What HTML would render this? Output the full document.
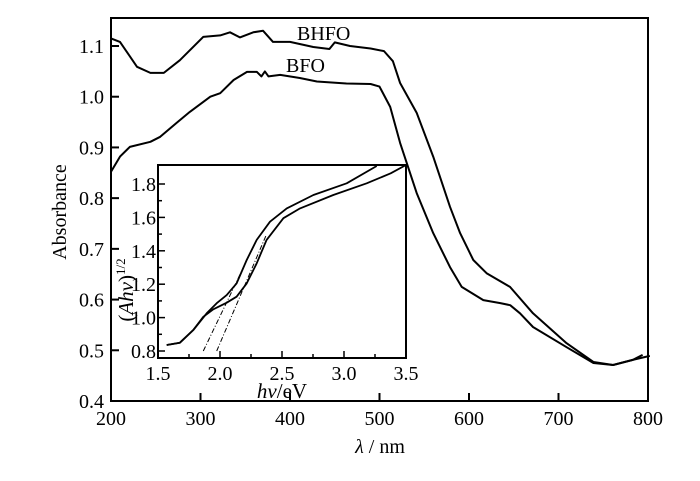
<!DOCTYPE html>
<html><head><meta charset="utf-8"><style>
html,body{margin:0;padding:0;background:#fff;}
svg{display:block;font-family:"Liberation Serif",serif;}
</style></head><body>
<svg id="chart" width="700" height="481" viewBox="0 0 700 481">
<g id="main"></g>
<g id="inset"></g>
</svg>
<script>
const bhfoNm=[200,210,229,244,259,277,303,322,333,344,359,370,381,400,426,444,450,467,490,505,515,523,541.6,560,578.8,590,604.8,619.7,645.8,671.5,709,739,761,783,802];
const bhfoAbs=[1.115,1.108,1.059,1.047,1.047,1.072,1.118,1.121,1.127,1.117,1.127,1.13,1.108,1.108,1.098,1.094,1.107,1.10,1.095,1.09,1.07,1.027,0.968,0.882,0.783,0.731,0.678,0.652,0.625,0.573,0.514,0.477,0.471,0.481,0.489];
const bfoNm=[200,210,221,244,255,273,288,311,322,337,352,363,368,372,376,389,411,430,463,490,500,512,523,541.6,560,578.8,591.8,616,635,646,657,671.5,709,739,761,783,794];
const bfoAbs=[0.852,0.882,0.901,0.911,0.921,0.948,0.970,1.0,1.007,1.033,1.049,1.049,1.04,1.05,1.04,1.043,1.037,1.03,1.026,1.025,1.02,0.98,0.909,0.810,0.731,0.664,0.625,0.599,0.593,0.589,0.573,0.546,0.506,0.475,0.471,0.481,0.491];
const xTicks=[200,300,400,500,600,700,800];
const yTicks=[0.4,0.5,0.6,0.7,0.8,0.9,1.0,1.1];
const insetAeV=[1.570,1.677,1.785,1.893,1.973,2.054,2.134,2.215,2.296,2.403,2.538,2.753,3.022,3.264];
const insetAVal=[0.836,0.850,0.926,1.026,1.086,1.135,1.205,1.345,1.465,1.574,1.654,1.734,1.804,1.908];
const insetBeV=[1.570,1.677,1.785,1.865,1.946,2.054,2.134,2.215,2.296,2.376,2.511,2.645,2.914,3.183,3.377,3.5];
const insetBVal=[0.836,0.850,0.926,1.005,1.050,1.089,1.125,1.205,1.325,1.465,1.595,1.654,1.734,1.804,1.864,1.914];
const fitAeV=[1.865,2.269];
const fitAVal=[0.80,1.425];
const fitBeV=[1.973,2.37];
const fitBVal=[0.80,1.49];
const insetXTicks=[1.5,2.0,2.5,3.0,3.5];
const insetYTicks=[0.8,1.0,1.2,1.4,1.6,1.8];

const NS="http://www.w3.org/2000/svg";
function mk(parent,tag,attrs,text){const e=document.createElementNS(NS,tag);for(const k in attrs)e.setAttribute(k,attrs[k]);if(text!==undefined)e.textContent=text;parent.appendChild(e);return e;}
const mX=v=>111+(v-200)*(537/600);
const mY=v=>401-(v-0.4)*(355/0.7);
const main=document.getElementById('main');
let fr=mk(main,'rect',{x:111,y:18,width:537,height:383,fill:'none',stroke:'#000','stroke-width':2});


xTicks.forEach(t=>{
  let l=mk(main,'line',{x1:mX(t),x2:mX(t),y1:401,y2:393,stroke:'#000','stroke-width':2});
  
  
  let tx=mk(main,'text',{x:mX(t),y:425,'font-size':20,'text-anchor':'middle'},String(t));
  
  
});
yTicks.forEach(t=>{
  let l=mk(main,'line',{x1:111,x2:119,y1:mY(t),y2:mY(t),stroke:'#000','stroke-width':2});
  
  
  let tx=mk(main,'text',{x:104,y:mY(t)+7,'font-size':20,'text-anchor':'end'},t.toFixed(1));
  
  
});
function path(parent,xs,ys,fx,fy,name,extra){
  const d=xs.map((x,i)=>(i?'L':'M')+fx(x).toFixed(1)+','+fy(ys[i]).toFixed(1)).join('');
  const p=mk(parent,'path',Object.assign({d:d,fill:'none',stroke:'#000','stroke-width':2,'stroke-linejoin':'round'},extra||{}));
  
  
  return p;
}
path(main,bhfoNm,bhfoAbs,mX,mY,'bhfo-line');
path(main,bfoNm,bfoAbs,mX,mY,'bfo-line');
let lb=mk(main,'text',{x:297,y:40,'font-size':20},'BHFO');


lb=mk(main,'text',{x:286,y:72,'font-size':20},'BFO');


lb=mk(main,'text',{x:0,y:0,'font-size':20,'text-anchor':'middle',transform:'translate(66,212) rotate(-90)'},'Absorbance');


lb=mk(main,'text',{x:380,y:453,'font-size':20,'text-anchor':'middle'});
lb.innerHTML='<tspan font-style="italic">λ</tspan> / nm';



const iX=v=>158+(v-1.5)*124;
const iY=v=>351-(v-0.8)*167;
const inset=document.getElementById('inset');
let bg=mk(inset,'rect',{x:158,y:165,width:248,height:193,fill:'#fff',stroke:'#000','stroke-width':2});


for(let v=1.5;v<=3.5001;v+=0.25){
  const major=Math.abs(v*2-Math.round(v*2))<1e-6;
  let l=mk(inset,'line',{x1:iX(v),x2:iX(v),y1:358,y2:major?351:354,stroke:'#000','stroke-width':1.5});
  
  
}
for(let v=0.8;v<=1.9;v+=0.1){
  const major=Math.round(v*10)%2===0;
  let l=mk(inset,'line',{x1:158,x2:major?165:162,y1:iY(v),y2:iY(v),stroke:'#000','stroke-width':1.5});
  
  
}
insetXTicks.forEach(t=>{
  let tx=mk(inset,'text',{x:iX(t),y:380,'font-size':20,'text-anchor':'middle'},t.toFixed(1));
  
  
});
insetYTicks.forEach(t=>{
  let tx=mk(inset,'text',{x:156,y:iY(t)+7,'font-size':20,'text-anchor':'end'},t.toFixed(1));
  
  
});
path(inset,insetAeV,insetAVal,iX,iY,'inset-bhfo-line',{'stroke-width':1.8});
path(inset,insetBeV,insetBVal,iX,iY,'inset-bfo-line',{'stroke-width':1.8});
path(inset,fitAeV,fitAVal,iX,iY,'inset-fit-line-1',{'stroke-width':1,'stroke-dasharray':'5,2,1,2'});
path(inset,fitBeV,fitBVal,iX,iY,'inset-fit-line-2',{'stroke-width':1,'stroke-dasharray':'5,2,1,2'});
lb=mk(inset,'text',{x:0,y:0,'font-size':21,'text-anchor':'middle',transform:'translate(133,290) rotate(-90)'});
lb.innerHTML='(<tspan font-style="italic">Ahν</tspan>)<tspan font-size="13" dy="-8">1/2</tspan>';


lb=mk(inset,'text',{x:282,y:398,'font-size':21,'text-anchor':'middle'});
lb.innerHTML='<tspan font-style="italic">hv</tspan>/eV';


</script>
</body></html>
